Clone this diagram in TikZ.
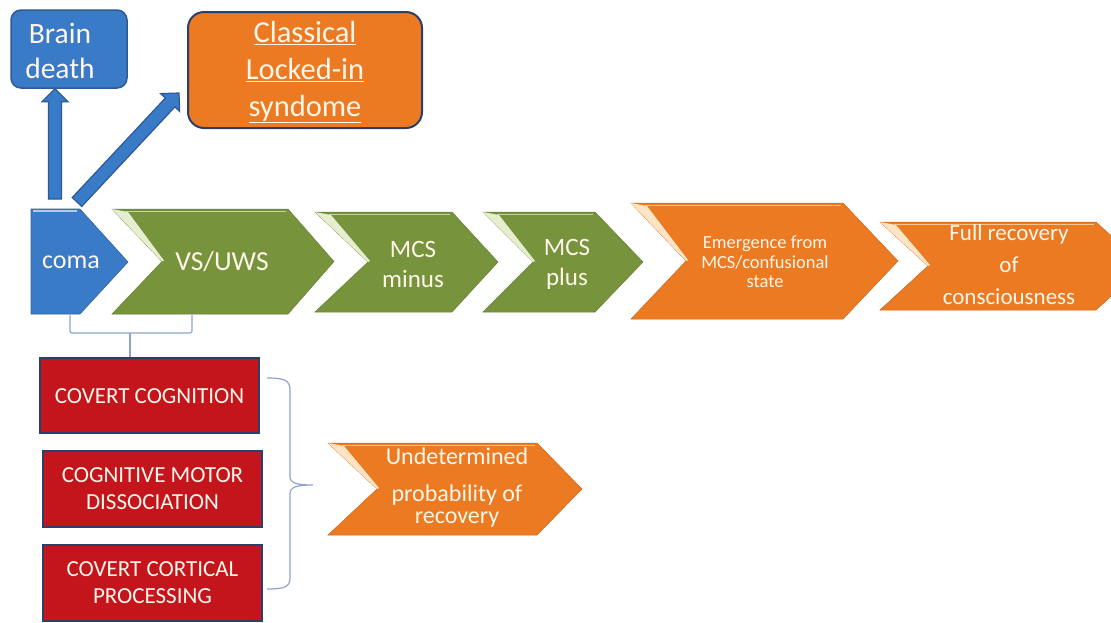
\documentclass[tikz,border=0pt]{standalone}
\usepackage{fontspec}
\setmainfont{Carlito}
\usetikzlibrary{calc}
\definecolor{cblue}{HTML}{3A7BC8}
\definecolor{bdark}{HTML}{2D5A95}
\definecolor{cgreen}{HTML}{77933C}
\definecolor{hlgreen}{HTML}{E6EECF}
\definecolor{corange}{HTML}{EC7A22}
\definecolor{hlorange}{HTML}{FDE4C4}
\definecolor{cred}{HTML}{C4141C}
\definecolor{navy}{HTML}{2B3F6C}
\definecolor{cream}{HTML}{FFF6EA}
\definecolor{brkcol}{HTML}{8EA3CF}
\newcommand{\mychev}[8]{%
  \filldraw[fill=#7, draw=#7!85!black, line width=0.5pt] (#1,#5) -- (#3,#5) -- (#4,{(#5+#6)/2}) -- (#3,#6) -- (#1,#6) -- (#2,{(#5+#6)/2}) -- cycle;
  \fill[#8] (#1,#5) -- ({#1+16},{#5+3}) -- ({#2+2},{(#5+#6)/2-1}) -- (#2,{(#5+#6)/2}) -- cycle;
  \draw[#8, line width=1.5pt, opacity=0.7] ({#1+14},{#5+2.5}) -- ({#3-2},{#5+2.5});
}
\newcommand{\fatarrow}[2]{%
  \coordinate (fa-b) at ($(#2)!13pt!(#1)$);
  \filldraw[fill=cblue, draw=bdark, line width=1.2pt, line join=miter]
    ($(#1)!6.5pt!90:(#2)$) -- ($(fa-b)!6.5pt!90:(#2)$) -- ($(fa-b)!13pt!90:(#2)$) -- (#2)
    -- ($(fa-b)!13pt!-90:(#2)$) -- ($(fa-b)!6.5pt!-90:(#2)$) -- ($(#1)!6.5pt!-90:(#2)$) -- cycle;
}
\begin{document}
\begin{tikzpicture}[x=1pt,y=-1pt,
  txt/.style={text=cream, align=center, inner sep=0pt},
  redbox/.style={draw=navy, line width=2.5pt, fill=cred, minimum width=219pt, minimum height=75pt, inner sep=0pt},
  brk/.style={draw=brkcol, line width=1.2pt}]
\useasboundingbox (0,0) rectangle (1111,622);
\clip (0,0) rectangle (1111,622);
\fill[white] (0,0) rectangle (1111,622);

% top boxes
\node[draw=bdark, line width=1.5pt, fill=cblue, rounded corners=10pt, minimum width=116pt, minimum height=78pt, inner sep=0pt] (brain) at (69,49) {};
\node[txt, font=\fontsize{29.5}{35}\selectfont] (braintxt) at (60,51) {Brain\\death};
\node[draw=navy, line width=2pt, fill=corange, rounded corners=16pt, minimum width=234pt, minimum height=116pt, inner sep=0pt] (lis) at (305,70) {};
\node[txt, font=\fontsize{30.5}{37}\selectfont] (listxt) at (305,72) {\underline{Classical}\\\underline{Locked-in}\\\underline{syndome}};

% coma
\filldraw[fill=cblue, draw=cblue!80!black, line width=0.6pt] (31,209) -- (80,209) -- (128,262) -- (80,314) -- (31,314) -- cycle;
\draw[white!60!cblue, line width=2pt] (33,211) -- (77,211);
\node[txt, font=\fontsize{26}{30}\selectfont] (coma) at (71,262) {coma};

% arrows from coma
\coordinate (up0) at (55,199);
\coordinate (up1) at (up0 |- brain.south);
\fatarrow{up0}{up1}
\coordinate (dg0) at (77,202);
\coordinate (dg1) at ($(lis.west)+(-8,23)$);
\fatarrow{dg0}{dg1}

% chevrons
\mychev{112}{162}{288}{334}{209}{314}{cgreen}{hlgreen}
\node[txt, font=\fontsize{27.5}{30}\selectfont] (vs) at (222,262) {VS/UWS};
\mychev{315}{368}{452}{498}{212}{312}{cgreen}{hlgreen}
\node[txt, font=\fontsize{25}{30}\selectfont] (mcsm) at (413,264) {MCS\\minus};
\mychev{483}{533}{595}{643}{212}{312}{cgreen}{hlgreen}
\node[txt, font=\fontsize{25}{30}\selectfont] (mcsp) at (567,264) {MCS\\plus};
\mychev{631}{686}{843}{898}{203}{319}{corange}{hlorange}
\node[txt, font=\fontsize{18.5}{19.5}\selectfont] (emg) at (765,262) {Emergence from\\MCS/confusional\\state};
\mychev{880}{928}{1096}{1144}{222}{310}{corange}{hlorange}
\node[txt, font=\fontsize{23}{32}\selectfont] (full) at (1009,265) {Full recovery\\of\\consciousness};

% bracket under coma / VS
\draw[brk, rounded corners=2pt] (70,315) -- (70,333) -- (192,333) -- (192,315);
\coordinate (stemtop) at (130,333);
\coordinate (stembot) at (130,357);
\draw[brk] (stemtop) -- (stembot);

% red boxes
\node[redbox] (cc) at (149.5,395.5) {};
\node[txt, font=\fontsize{23}{27}\selectfont] (cctxt) at ($(cc)+(0,1)$) {COVERT COGNITION};
\node[redbox, minimum height=76pt] (cmd) at (152.5,489) {};
\node[txt, font=\fontsize{23}{27}\selectfont] (cmdtxt) at (cmd) {COGNITIVE MOTOR\\DISSOCIATION};
\node[redbox, minimum height=76pt] (ccp) at (152.5,583) {};
\node[txt, font=\fontsize{23}{27}\selectfont] (ccptxt) at (ccp) {COVERT CORTICAL\\PROCESSING};

% right brace
\draw[brk] (267,378) .. controls (284,378) and (290,380) .. (290,390) -- (290,476)
  .. controls (290,483) and (296,485) .. (313,485)
  .. controls (296,485) and (290,487) .. (290,494) -- (290,578)
  .. controls (290,587) and (284,589) .. (267,589);

% undetermined
\mychev{328}{377}{537}{582}{443}{535}{corange}{hlorange}
\node[txt, font=\fontsize{24}{22}\selectfont] (und) at (457,488) {Undetermined\\[15pt]probability of\\recovery};
\end{tikzpicture}
\end{document}
